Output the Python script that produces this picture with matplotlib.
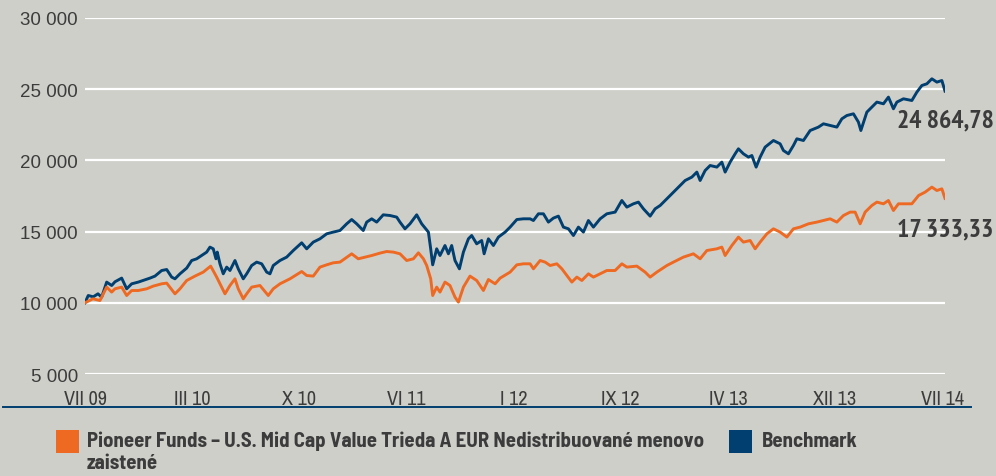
import numpy as np
import matplotlib.pyplot as plt
from matplotlib.patches import Rectangle
from matplotlib.lines import Line2D

# months since VII 09 and index value
bench_m = [0.0, 0.23, 0.58, 0.91, 1.17, 1.52, 1.87, 2.10, 2.57, 2.92, 3.27, 3.73, 4.06, 4.55, 4.90,
           5.37, 5.72, 6.07, 6.30, 6.65, 7.12, 7.47, 7.82, 8.17, 8.52, 8.75, 8.98, 9.17, 9.26, 9.45,
           9.68, 9.92, 10.15, 10.50, 10.73, 11.08, 11.32, 11.67, 12.02, 12.37, 12.72, 12.95, 13.18,
           13.65, 14.12, 14.58, 15.17, 15.52, 15.98, 16.45, 16.92, 17.38, 17.85, 18.32, 18.67, 19.02,
           19.48, 19.72, 20.07, 20.42, 20.88, 21.35, 21.82, 22.05, 22.40, 22.75, 23.22, 23.57, 24.04,
           24.20, 24.34, 24.62, 24.85, 25.20, 25.44, 25.67, 25.90, 26.21, 26.49, 26.84, 27.07, 27.42,
           27.77, 27.94, 28.24, 28.59, 28.94, 29.41, 29.76, 30.23, 30.69, 31.16, 31.39, 31.74, 32.09,
           32.44, 32.79, 33.14, 33.49, 33.84, 34.19, 34.54, 34.89, 35.24, 35.59, 36.06, 36.53, 37.11,
           37.58, 37.93, 38.39, 38.74, 39.09, 39.56, 39.91, 40.26, 40.73, 41.19, 41.66, 42.01, 42.48,
           42.83, 43.06, 43.41, 43.76, 44.23, 44.58, 44.81, 45.16, 45.51, 45.74, 46.09, 46.44, 46.68,
           46.98, 47.26, 47.61, 48.19, 48.66, 48.89, 49.24, 49.59, 49.83, 50.29, 50.76, 51.34, 51.69,
           52.16, 52.63, 52.98, 53.33, 53.79, 54.14, 54.31, 54.73, 55.08, 55.43, 55.89, 56.24, 56.59,
           56.83, 57.29, 57.88, 58.23, 58.58, 58.93, 59.28, 59.63, 59.98, 60.2]
bench_v = [10000, 10513, 10421, 10632, 10400, 11454, 11215, 11475, 11734, 10983, 11334, 11454, 11566,
           11734, 11875, 12268, 12338, 11805, 11685, 12036, 12437, 12970, 13090, 13321, 13560, 13911,
           13792, 13090, 13560, 12739, 12036, 12507, 12268, 12970, 12387, 11685, 12036, 12619, 12858,
           12739, 12156, 12036, 12619, 12970, 13209, 13672, 14213, 13792, 14262, 14494, 14845, 14965,
           15077, 15547, 15849, 15547, 15077, 15667, 15898, 15667, 16179, 16130, 16018, 15667, 15196,
           15547, 16179, 15547, 14965, 13792, 12668, 13792, 13321, 14024, 13441, 14024, 12970, 12387,
           13560, 14494, 14726, 14143, 14375, 13441, 14494, 14024, 14614, 14965, 15316, 15849, 15898,
           15898, 15779, 16250, 16250, 15667, 15948, 16088, 15316, 15196, 14726, 15316, 14965, 15779,
           15316, 15898, 16250, 16369, 17184, 16720, 16952, 17071, 16601, 16088, 16601, 16832, 17303,
           17773, 18237, 18588, 18827, 19178, 18588, 19290, 19641, 19529, 19880, 19178, 19880, 20463,
           20814, 20463, 20231, 20343, 19529, 20231, 20933, 21397, 21165, 20694, 20463, 21046, 21516,
           21397, 22099, 22338, 22569, 22450, 22338, 22920, 23152, 23272, 22689, 22099, 23391, 23742,
           24093, 23974, 24444, 23623, 24093, 24325, 24206, 24795, 25259, 25378, 25729, 25497, 25610,
           24864.78]

fund_m = [0.0, 0.56, 1.05, 1.52, 1.87, 2.10, 2.57, 2.92, 3.27, 3.73, 4.32, 4.78, 5.37, 5.72, 6.30,
          6.65, 7.12, 7.70, 8.28, 8.80, 9.22, 9.57, 9.80, 10.15, 10.50, 10.73, 11.08, 11.32, 11.67,
          12.25, 12.83, 13.18, 13.65, 14.35, 15.17, 15.52, 15.98, 16.45, 16.92, 17.38, 17.85, 18.67,
          19.13, 19.60, 20.07, 20.65, 21.12, 21.59, 22.05, 22.52, 22.99, 23.34, 23.69, 23.92, 24.20,
          24.34, 24.62, 24.85, 25.20, 25.55, 25.90, 26.14, 26.49, 26.95, 27.42, 27.89, 28.24, 28.71,
          29.06, 29.76, 30.23, 30.69, 31.16, 31.39, 31.86, 32.21, 32.56, 33.03, 33.38, 33.73, 34.08,
          34.43, 34.78, 35.24, 35.59, 36.06, 36.53, 37.11, 37.58, 37.93, 38.63, 39.21, 39.56, 40.03,
          40.73, 41.19, 41.89, 42.59, 43.06, 43.53, 44.23, 44.58, 44.81, 45.28, 45.74, 46.09, 46.56,
          46.91, 47.26, 47.73, 48.19, 48.66, 49.13, 49.59, 50.06, 50.64, 51.23, 51.69, 52.16, 52.63,
          53.09, 53.56, 53.91, 54.26, 54.61, 55.08, 55.43, 55.89, 56.24, 56.59, 56.94, 57.41, 57.88,
          58.35, 58.81, 59.28, 59.63, 59.98, 60.2]
fund_v = [10000, 10281, 10161, 11102, 10751, 10983, 11102, 10513, 10864, 10864, 10983, 11173, 11334,
          11383, 10632, 10983, 11566, 11875, 12156, 12577, 11805, 11102, 10632, 11215, 11685, 10983,
          10281, 10632, 11102, 11215, 10513, 10983, 11334, 11685, 12198, 11917, 11875, 12507, 12668,
          12809, 12858, 13441, 13090, 13209, 13321, 13490, 13602, 13560, 13441, 12970, 13090, 13511,
          13090, 12619, 11685, 10513, 11102, 10751, 11454, 11215, 10400, 10049, 11102, 11875, 11566,
          10864, 11636, 11334, 11734, 12156, 12668, 12739, 12739, 12387, 12970, 12858, 12619, 12739,
          12387, 11917, 11454, 11805, 11566, 12036, 11805, 12036, 12268, 12268, 12739, 12507, 12577,
          12156, 11805, 12156, 12619, 12858, 13209, 13441, 13090, 13672, 13792, 13911, 13321, 14024,
          14614, 14262, 14375, 13792, 14262, 14845, 15196, 14965, 14614, 15196, 15316, 15547, 15667,
          15779, 15898, 15667, 16130, 16369, 16369, 15547, 16369, 16832, 17071, 16952, 17184, 16481,
          16952, 16952, 16952, 17535, 17773, 18124, 17886, 18005, 17333.33]

tick_labels = ["VII 09", "III 10", "X 10", "VI 11", "I 12", "IX 12", "IV 13", "XII 13", "VII 14"]
y_ticks = [5000, 10000, 15000, 20000, 25000, 30000]
fund_name = "Pioneer Funds – U.S. Mid Cap Value Trieda A EUR Nedistribuované menovo\nzaistené"
bench_name = "Benchmark"

BG = "#cfcfca"
ORANGE = "#ee6a22"
NAVY = "#003f6f"
TXT = "#3c3c3c"
narrow = ["Archivo Narrow", "DejaVu Sans"]
narrow_bold = ["PT Sans Narrow", "DejaVu Sans"]
legend_font = ["Barlow Semi Condensed", "PT Sans Narrow", "DejaVu Sans"]


def fmt_num(v, dec=0):
    s = f"{v:,.{dec}f}"
    return s.replace(",", " ").replace(".", ",")


fig = plt.figure(figsize=(9.96, 4.77), dpi=100, facecolor=BG)
ax = fig.add_axes([0.0853, 0.2138, 0.8635, 0.7464])
ax.set_facecolor(BG)

ax.plot(bench_m, bench_v, color=NAVY, lw=2.1, zorder=3)
ax.plot(fund_m, fund_v, color=ORANGE, lw=2.1, zorder=3)

ax.set_xlim(0, 60.2)
ax.set_ylim(5000, 30000)
ax.set_yticks(y_ticks)
ax.set_yticklabels([fmt_num(v) for v in y_ticks],
                   family=["Liberation Sans", "DejaVu Sans"], fontsize=13.5, color=TXT)
ax.set_xticks(np.linspace(0, 60, len(tick_labels)))
ax.set_xticklabels(tick_labels, family=narrow, fontsize=14.5, color=TXT)
ax.tick_params(axis="both", length=0)
ax.tick_params(axis="y", pad=5)
ax.tick_params(axis="x", pad=11)
ax.grid(axis="y", color="white", lw=1.6, zorder=1)
ax.grid(axis="x", visible=False)
for s in ax.spines.values():
    s.set_visible(False)

# end values
ax.annotate(fmt_num(bench_v[-1], 2), (bench_m[-1], bench_v[-1]), xytext=(35, -21),
            textcoords="offset points", ha="right", va="center", fontsize=18.5,
            fontweight="bold", color=TXT, family=narrow_bold)
ax.annotate(fmt_num(fund_v[-1], 2), (fund_m[-1], fund_v[-1]), xytext=(35, -22),
            textcoords="offset points", ha="right", va="center", fontsize=18.5,
            fontweight="bold", color=TXT, family=narrow_bold)

# bottom rule
fig.add_artist(Line2D([0.003, 0.975], [1 - 408 / 477] * 2, color=NAVY, lw=1.4))

# legend
sq_w, sq_h = 23 / 996, 23 / 477
fig.add_artist(Rectangle((56 / 996, 1 - 454 / 477), sq_w, sq_h, color=ORANGE, lw=0))
fig.add_artist(Rectangle((729 / 996, 1 - 454 / 477), sq_w, sq_h, color=NAVY, lw=0))
fig.text(87 / 996, 1 - 432 / 477, fund_name, ha="left", va="top", fontsize=15,
         fontweight="bold", color=TXT, family=legend_font, linespacing=1.2)
fig.text(762 / 996, 1 - 432 / 477, bench_name, ha="left", va="top", fontsize=15,
         fontweight="bold", color=TXT, family=legend_font)

fig.savefig("out.png", dpi=100, facecolor=BG)
